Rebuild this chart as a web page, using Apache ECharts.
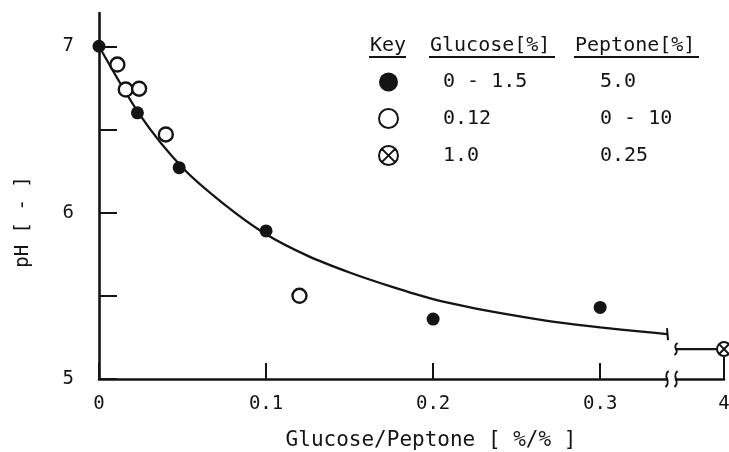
<!DOCTYPE html>
<html>
<head>
<meta charset="utf-8">
<script src="https://cdn.jsdelivr.net/npm/echarts@6/dist/echarts.min.js"></script>
<style>
  html, body { margin: 0; padding: 0; background: #fff; }
  #chart { width: 729px; height: 452px; }
</style>
</head>
<body>
<div id="chart"></div>
<script>
// Fitted pH curve (main section of the x axis)
const curveX  = [0, 0.025, 0.05, 0.075, 0.1, 0.125, 0.15, 0.175, 0.2, 0.225, 0.25, 0.275, 0.3, 0.325, 0.34];
const curvePH = [7.0, 6.58, 6.27, 6.05, 5.87, 5.74, 5.64, 5.555, 5.48, 5.425, 5.38, 5.34, 5.31, 5.285, 5.27];
// Curve continuation after the axis break
const tailX  = [3.971, 4];
const tailPH = [5.18, 5.18];

// Glucose 0 - 1.5 %, peptone 5.0 %
const filledX  = [0, 0.023, 0.048, 0.1, 0.2, 0.3];
const filledPH = [7.0, 6.6, 6.27, 5.89, 5.36, 5.43];
// Glucose 0.12 %, peptone 0 - 10 %
const openX  = [0.011, 0.016, 0.024, 0.04, 0.12];
const openPH = [6.89, 6.74, 6.745, 6.47, 5.5];
// Glucose 1.0 %, peptone 0.25 %
const crossX  = [4];
const crossPH = [5.18];

const xTicks  = [0, 0.1, 0.2, 0.3];
const xTicks2 = [4];
const yTicks  = [5, 5.5, 6, 6.5, 7];
const yLabels = [5, 6, 7];

const keyGlucose = ['0 - 1.5', '0.12', '1.0'];
const keyPeptone = ['5.0', '0 - 10', '0.25'];
const keyHeaders = ['Key', 'Glucose[%]', 'Peptone[%]'];

const INK = '#141414';
const FONT = '"DejaVu Sans Mono", "Liberation Mono", monospace';
const CROSS = 'path://M2,12A10,10 0 1,1 22,12A10,10 0 1,1 2,12Z M5,5L19,19 M19,5L5,19';

const zip = (xs, ys) => xs.map((x, i) => [x, ys[i]]);

const chart = echarts.init(document.getElementById('chart'), null, { renderer: 'canvas' });

const yBase = { type: 'value', min: 5, max: 7.2 };

const option = {
  backgroundColor: '#fff',
  animation: false,
  textStyle: { fontFamily: FONT, color: INK },
  grid: [
    { left: 99, width: 568, top: 13, bottom: 73, containLabel: false, outerBoundsMode: 'none' },
    { left: 676, width: 48, top: 13, bottom: 73, containLabel: false, outerBoundsMode: 'none' }
  ],
  xAxis: [
    {
      gridIndex: 0, type: 'value', min: 0, max: 0.34,
      splitLine: { show: false },
      axisLine: { show: true, lineStyle: { color: INK, width: 2.6 } },
      axisTick: { show: true, inside: true, length: 16, customValues: xTicks,
                  lineStyle: { color: INK, width: 2 } },
      axisLabel: { customValues: xTicks, margin: 16, fontSize: 19, color: INK, fontFamily: FONT,
                   formatter: v => String(v) },
      name: 'Glucose/Peptone [ %/% ]',
      nameLocation: 'middle', nameGap: 51,
      nameTextStyle: { fontSize: 21, color: INK, fontFamily: FONT, padding: [0, 0, 0, 96] }
    },
    {
      gridIndex: 1, type: 'value', min: 3.971, max: 4,
      splitLine: { show: false },
      axisLine: { show: true, lineStyle: { color: INK, width: 2.6 } },
      axisTick: { show: true, inside: true, length: 22, customValues: xTicks2,
                  lineStyle: { color: INK, width: 2 } },
      axisLabel: { customValues: xTicks2, margin: 16, fontSize: 19, color: INK, fontFamily: FONT,
                   formatter: v => String(v) }
    }
  ],
  yAxis: [
    Object.assign({}, yBase, {
      gridIndex: 0,
      splitLine: { show: false },
      axisLine: { show: true, lineStyle: { color: INK, width: 2.6 } },
      axisTick: { show: true, inside: true, length: 18, customValues: yTicks,
                  lineStyle: { color: INK, width: 2 } },
      axisLabel: { customValues: yLabels, margin: 25, fontSize: 19, color: INK, fontFamily: FONT },
      name: 'pH [ - ]',
      nameLocation: 'middle', nameGap: 66,
      nameTextStyle: { fontSize: 19, color: INK, fontFamily: FONT, padding: [0, 52, 0, 0] }
    }),
    Object.assign({}, yBase, { gridIndex: 1, show: false })
  ],
  legend: {
    orient: 'vertical',
    left: 373, top: 67,
    itemWidth: 19, itemHeight: 19, itemGap: 16,
    selectedMode: false,
    data: keyGlucose,
    textStyle: {
      fontFamily: FONT, fontSize: 20, color: INK, lineHeight: 18,
      rich: {
        s: { width: 40 },
        g: { width: 157, fontSize: 20, fontFamily: FONT, color: INK },
        p: { fontSize: 20, fontFamily: FONT, color: INK }
      }
    },
    formatter: name => {
      const i = keyGlucose.indexOf(name);
      return '{s|}{g|' + keyGlucose[i] + '}{p|' + keyPeptone[i] + '}';
    }
  },
  series: [
    {
      type: 'line', name: 'curve', xAxisIndex: 0, yAxisIndex: 0,
      data: zip(curveX, curvePH), smooth: 0.3,
      showSymbol: false, symbol: 'none',
      lineStyle: { color: INK, width: 2.3 }, z: 2, silent: true
    },
    {
      type: 'line', name: 'tail', xAxisIndex: 1, yAxisIndex: 1,
      data: zip(tailX, tailPH), showSymbol: false, symbol: 'none',
      lineStyle: { color: INK, width: 2.3 }, z: 2, silent: true
    },
    {
      type: 'scatter', name: keyGlucose[0], xAxisIndex: 0, yAxisIndex: 0,
      data: zip(filledX, filledPH), symbol: 'circle', symbolSize: 13,
      itemStyle: { color: INK, borderColor: INK, borderWidth: 0, opacity: 1 }, z: 4, clip: false
    },
    {
      type: 'scatter', name: keyGlucose[1], xAxisIndex: 0, yAxisIndex: 0,
      data: zip(openX, openPH), symbol: 'circle', symbolSize: 14,
      itemStyle: { color: '#fff', borderColor: INK, borderWidth: 2.4, opacity: 1 }, z: 4, clip: false
    },
    {
      type: 'scatter', name: keyGlucose[2], xAxisIndex: 1, yAxisIndex: 1,
      data: zip(crossX, crossPH), symbol: CROSS, symbolSize: 14,
      itemStyle: { color: '#fff', borderColor: INK, borderWidth: 2, opacity: 1 }, z: 4, clip: false
    }
  ]
};

chart.setOption(option);

// Break marks on the x axis and on the curve, plus the underlined key header
function squiggle(x, y, h) {
  return {
    type: 'bezierCurve',
    shape: { x1: x + 1.5, y1: y - h, cpx1: x - 5, cpy1: y - h * 0.2,
             cpx2: x + 5, cpy2: y + h * 0.2, x2: x - 1.5, y2: y + h },
    style: { stroke: INK, lineWidth: 2, fill: null }, z: 10
  };
}

const axisEnd  = chart.convertToPixel({ gridIndex: 0 }, [0.34, 5]);
const axisBeg2 = chart.convertToPixel({ gridIndex: 1 }, [3.971, 5]);
const curveEnd = chart.convertToPixel({ gridIndex: 0 }, [curveX[curveX.length - 1], curvePH[curvePH.length - 1]]);
const tailBeg  = chart.convertToPixel({ gridIndex: 1 }, [tailX[0], tailPH[0]]);

const headerX = [370, 430, 575];
const headerW = [36, 125, 124];
const graphics = [
  squiggle(axisEnd[0], axisEnd[1], 8),
  squiggle(axisBeg2[0], axisBeg2[1], 8),
  { type: 'line', shape: { x1: curveEnd[0], y1: curveEnd[1] - 6, x2: curveEnd[0] + 1, y2: curveEnd[1] + 6 },
    style: { stroke: INK, lineWidth: 2 }, z: 10 },
  squiggle(tailBeg[0], tailBeg[1], 6)
];
keyHeaders.forEach((t, i) => {
  graphics.push({
    type: 'text', left: headerX[i], top: 36,
    style: { text: t, font: '20px ' + FONT, fill: INK }, z: 10
  });
  graphics.push({
    type: 'line', shape: { x1: headerX[i] - 1, y1: 57, x2: headerX[i] + headerW[i], y2: 57 },
    style: { stroke: INK, lineWidth: 2 }, z: 10
  });
});
chart.setOption({ graphic: graphics });
</script>
</body>
</html>
